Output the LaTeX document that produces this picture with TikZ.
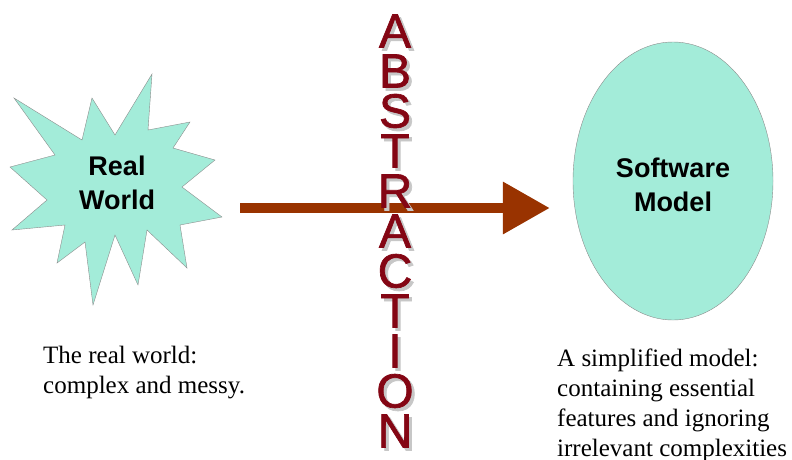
\documentclass[tikz,border=0pt]{standalone}
\usepackage{fontspec}
\setmainfont{Liberation Serif}
\setsansfont{Liberation Sans}
\newfontfamily\abstractfont[FakeBold=1.4]{Liberation Sans}
\usetikzlibrary{shapes.geometric,arrows.meta}
\definecolor{aqua}{RGB}{163,236,217}
\definecolor{rust}{RGB}{153,51,0}
\definecolor{maroon}{RGB}{132,6,20}

\begin{document}
\begin{tikzpicture}[x=1pt,y=-1pt,
		label/.style={font=\sffamily\bfseries\fontsize{27}{34}\selectfont, align=center, inner sep=0pt},
		note/.style={font=\fontsize{25}{30}\selectfont, align=left, inner sep=0pt, anchor=base west},
		letter/.style={font=\abstractfont\fontsize{48}{48}\selectfont, inner sep=0pt, text=maroon},
		shadowletter/.style={letter, text=black!22}]
			%%%%% START %%%%%
			\useasboundingbox (0,0) rectangle (792,459);
			
			% the real world
			\draw[fill=aqua, draw=black!45] (14,98) -- (82,140) -- (92,98) -- (115,135) -- (152,74) -- (148,130)
				-- (190,122) -- (173,148) -- (215,160) -- (182,187) -- (222,217) -- (180,225) -- (187,268)
				-- (147,230) -- (138,285) -- (115,235) -- (93,305) -- (85,242) -- (57,263) -- (65,225)
				-- (12,230) -- (47,200) -- (10,167) -- (55,155) -- cycle;
			\node[label] (real) at (117,183) {Real\\World};
			
			% the software model
			\node[ellipse, fill=aqua, draw=black!45, minimum width=200pt, minimum height=278pt] (model) at (673,181) {};
			\node[label] (software) at (673,185) {Software\\Model};
			
			% arrow
			\coordinate (start) at (240,208);
			\draw[rust, line width=10pt, shorten >=23pt, -{Triangle[length=47pt,width=50pt]}] (start) -- (start -| model.west);
			
			% abstraction
			\foreach \ch [count=\i from 0] in {A,B,S,T,R,A,C,T,I,O,N} {
				\node[shadowletter] at (398, 34+40*\i) {\ch};
				\node[letter] (abs\i) at (395, 31+40*\i) {\ch};
			}
			
			% notes (base is the last line)
			\node[note] (realnote) at (43,393) {The real world:\\complex and messy.};
			\node[note] (modelnote) at (557,456) {A simplified model:\\containing essential\\features and ignoring\\irrelevant complexities};
			%%%%% END %%%%%
\end{tikzpicture}
\end{document}
